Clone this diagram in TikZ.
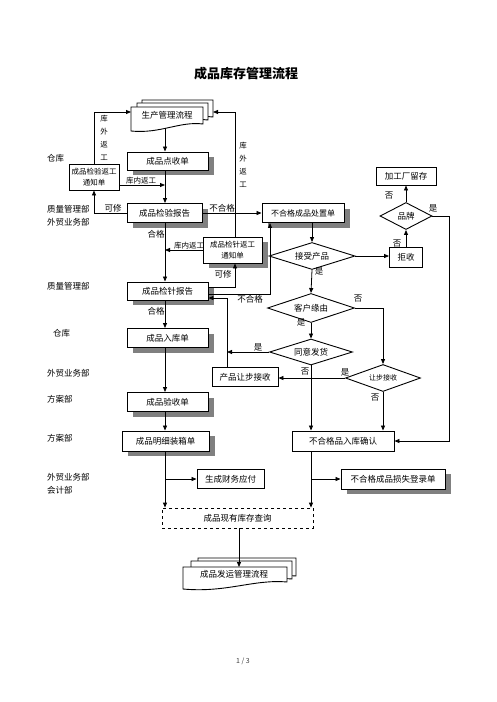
\documentclass[tikz,border=0pt]{standalone}
\usepackage{fontspec}
\setmainfont{Noto Sans CJK SC}
\usetikzlibrary{shapes.geometric,arrows.meta,shadows}
\begin{document}
\begin{tikzpicture}[x=1pt,y=-1pt,
  box/.style={draw,line width=0.9pt,fill=white,inner sep=0pt,font=\fontsize{8.5}{10}\selectfont},
  sbox/.style={box,drop shadow={shadow xshift=6pt,shadow yshift=-5pt,fill=black!50,opacity=1}},
  dia/.style={diamond,draw,line width=0.9pt,fill=white,aspect=3,inner sep=0pt,font=\fontsize{8.5}{10}\selectfont},
  arr/.style={line width=0.8pt,-{Triangle[length=5pt,width=4pt]}},
  lab/.style={font=\fontsize{8.5}{10}\selectfont,inner sep=0pt},
  small/.style={font=\fontsize{7.5}{9}\selectfont,inner sep=0pt},
  vert/.style={font=\fontsize{7.5}{13}\selectfont,inner sep=0pt,align=center},
  dept/.style={font=\fontsize{8.5}{10}\selectfont,inner sep=0pt,anchor=west},
  doc/.style={draw,line width=0.9pt,fill=white}
]
\fill[white] (0,0) rectangle (496,702);
\useasboundingbox (0,0) rectangle (496,702);

\node[font=\fontsize{13}{15}\selectfont\bfseries] (title) at (246,74) {成品库存管理流程};

% columns
\coordinate (col) at (165,0);
\coordinate (col2) at (311,0);
\coordinate (ecol) at (235,0);
\coordinate (dcol) at (270,0);
\coordinate (jcol) at (227,0);
\coordinate (rcol) at (449,0);

% top document
\draw[doc] (142,100) -- (213,100) -- (213,117) .. controls (190,114) and (170,127) .. (142,124) -- cycle;
\draw[doc] (137,103) -- (208,103) -- (208,120) .. controls (185,117) and (165,130) .. (137,127) -- cycle;
\draw[doc] (131,107) -- (203,107) -- (203,124) .. controls (180,121) and (160,134) .. (131,131) -- cycle;
\node[lab] (doc1) at (167,115) {生产管理流程};
\coordinate (doc1L) at (131,112);
\coordinate (doc1R) at (213,112);
\coordinate (doc1B) at (165,128);

% bottom document
\draw[doc] (198,558) -- (296,558) -- (296,576) .. controls (263,573) and (235,587) .. (198,583) -- cycle;
\draw[doc] (191,561) -- (292,561) -- (292,579) .. controls (259,576) and (231,590) .. (191,586) -- cycle;
\draw[doc] (183,567) -- (287,567) -- (287,582) .. controls (254,579) and (226,593) .. (183,589) -- cycle;
\node[lab] (doc2) at (234,574) {成品发运管理流程};
\coordinate (doc2T) at (239,567);

% boxes
\node[sbox,minimum width=81pt,minimum height=18pt] (A) at (167.5,161) {成品点收单};
\node[box,minimum width=50pt,minimum height=26pt,font=\fontsize{7.5}{11}\selectfont,align=center] (B) at (94,177) {成品检验返工\\通知单};
\node[sbox,minimum width=75pt,minimum height=19pt] (C) at (164.5,213) {成品检验报告};
\node[sbox,minimum width=82pt,minimum height=19pt,font=\fontsize{8}{10}\selectfont] (D) at (303,213) {不合格成品处置单};
\node[sbox,minimum width=59pt,minimum height=26pt,font=\fontsize{7.5}{11}\selectfont,align=center] (E) at (232.5,250) {成品检针返工\\通知单};
\node[sbox,minimum width=81pt,minimum height=18pt] (F) at (167.5,291) {成品检针报告};
\node[sbox,minimum width=81pt,minimum height=19pt] (G) at (167.5,338) {成品入库单};
\node[sbox,minimum width=81pt,minimum height=19pt] (H) at (167.5,402) {成品验收单};
\node[sbox,minimum width=87pt,minimum height=20pt] (I) at (165.5,441) {成品明细装箱单};
\node[box,minimum width=66pt,minimum height=19pt] (J) at (245,377) {产品让步接收};
\node[box,minimum width=102pt,minimum height=20pt] (K) at (343,441) {不合格品入库确认};
\node[box,minimum width=67pt,minimum height=19pt] (L) at (230.5,479) {生成财务应付};
\node[sbox,minimum width=104pt,minimum height=20pt] (M) at (393,479) {不合格成品损失登录单};
\node[box,dashed,line width=0.8pt,minimum width=151pt,minimum height=20pt] (N) at (237.5,518) {成品现有库存查询};
\node[box,minimum width=60pt,minimum height=18pt] (P) at (406,176) {加工厂留存};
\node[box,minimum width=33pt,minimum height=20pt] (Q) at (406,257) {拒收};

% diamonds
\node[dia,minimum width=86pt,minimum height=27pt] (d1) at (312,256) {接受产品};
\node[dia,minimum width=87pt,minimum height=29pt] (d2) at (311,308) {客户缘由};
\node[dia,minimum width=83pt,minimum height=26pt] (d3) at (311,352) {同意发货};
\node[dia,minimum width=75pt,minimum height=27pt,font=\fontsize{7}{8}\selectfont] (d4) at (383,378) {让步接收};
\node[dia,minimum width=52pt,minimum height=27pt] (d5) at (406,216) {品牌};

% connectors
\draw[arr] (doc1B) -- (doc1B |- A.north);
\draw[arr] (A.south -| col) -- (C.north -| col);
\draw[arr] ([yshift=-8pt]B.east) -- ([yshift=-8pt]B.east -| col);
\draw[arr] (C.west) -| (B.south);
\draw[arr] (B.north) |- (doc1L);
\draw[arr] (C.east) -- (D.west);
\draw[arr] (C.south -| col) -- (F.north -| col);
\draw[arr] (E.west) -- (E.west -| col);
\draw[arr] ([yshift=4pt]F.east) -| (E.south -| ecol);
\draw[arr] (E.north -| ecol) |- (doc1R);
\draw[arr] ([yshift=-3pt]F.east) -| (D.south -| dcol);
\draw[arr] (J.north -| jcol) |- ([yshift=-7pt]F.east);
\draw[arr] (F.south -| col) -- (G.north -| col);
\draw[arr] (G.south -| col) -- (H.north -| col);
\draw[arr] (H.south -| col) -- (I.north -| col);
\draw[arr] (I.south -| col) -- (N.north -| col);
\draw[arr] (col |- L.west) -- (L.west);
\draw[arr] (D.south -| d1.north) -- (d1.north);
\draw[arr] (d1.south) -- (d2.north);
\draw[arr] (d1.east) -- (d1.east -| Q.west);
\draw[arr] (Q.north) -- (d5.south);
\draw[arr] (d5.north) -- (P.south);
\draw[arr] (d5.east) -| (rcol |- K.east) -- (K.east);
\draw[arr] (d2.east) -| (d4.north);
\draw[arr] (d2.south) -- (d3.north);
\draw[arr] (d3.west) -- (d3.west -| jcol);
\draw[arr] (d3.south) -- (d3.south |- K.north);
\draw[arr] (d4.west) -- (d4.west -| J.east);
\draw[arr] (d4.south) -- (d4.south |- K.north);
\draw[arr] (K.south -| col2) -- (N.north -| col2);
\draw[arr] (col2 |- M.west) -- (M.west);
\draw[arr] (N.south -| doc2T) -- (doc2T);

% labels
\node[lab] (l1) at (113,208) {可修};
\node[vert] (l2) at (104,138) {库\\外\\返\\工};
\node[small] (l3) at (141,181) {库内返工};
\node[lab] (l4) at (222,208) {不合格};
\node[lab] (l5) at (156,234) {合格};
\node[small] (l6) at (189,246) {库内返工};
\node[lab] (l7) at (223,274) {可修};
\node[vert] (l8) at (243,164.5) {库\\外\\返\\工};
\node[lab] (l9) at (250,299) {不合格};
\node[lab] (l10) at (156,311) {合格};
\node[lab] (l11) at (389,196) {否};
\node[lab] (l12) at (433,208) {是};
\node[lab] (l13) at (397,244) {否};
\node[lab] (l14) at (319,271) {是};
\node[lab] (l15) at (358,299) {否};
\node[lab] (l16) at (301,322) {是};
\node[lab] (l17) at (258,347) {是};
\node[lab] (l18) at (305,372) {否};
\node[lab] (l19) at (345,372) {是};
\node[lab] (l20) at (375,398) {否};

% departments
\node[dept] (p1) at (47,158) {仓库};
\node[dept] (p2) at (47,209) {质量管理部};
\node[dept] (p3) at (47,222) {外贸业务部};
\node[dept] (p4) at (47,286) {质量管理部};
\node[dept] (p5) at (53,333) {仓库};
\node[dept] (p6) at (47,373) {外贸业务部};
\node[dept] (p7) at (47,399) {方案部};
\node[dept] (p8) at (47,438) {方案部};
\node[dept] (p9) at (47,477) {外贸业务部};
\node[dept] (p10) at (47,490) {会计部};

\node[font=\fontsize{7}{8}\selectfont,text=black!75] (pg) at (243,661) {1 / 3};
\end{tikzpicture}
\end{document}
